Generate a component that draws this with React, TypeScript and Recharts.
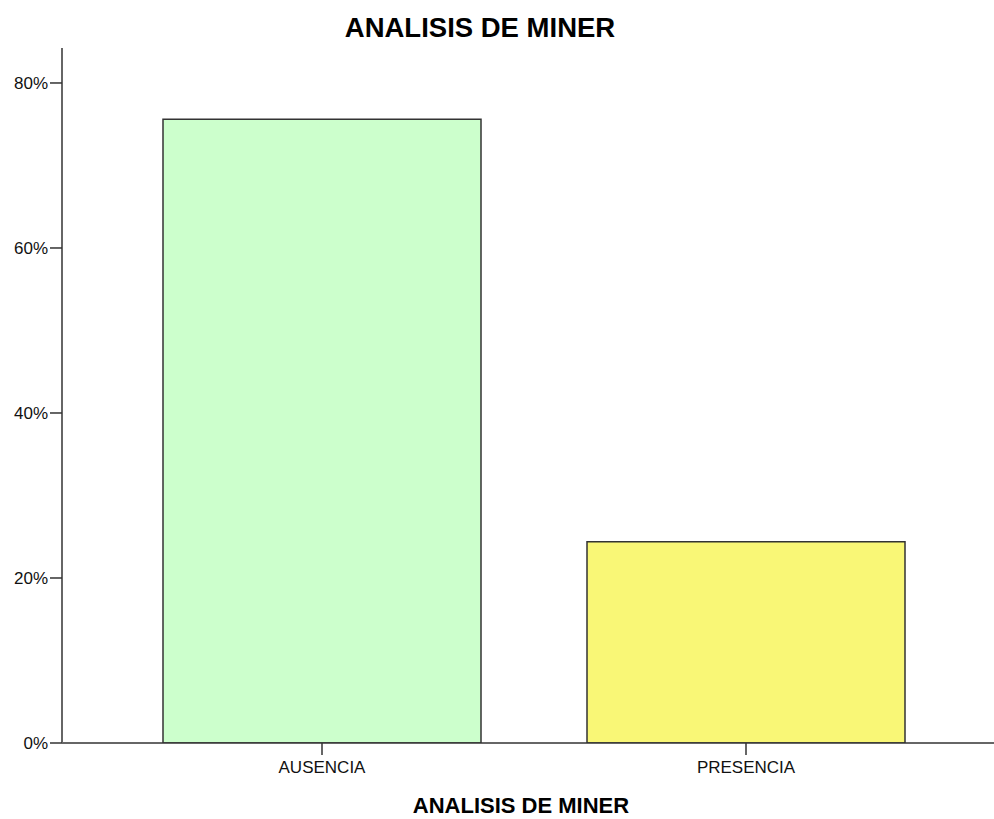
import React from "react";
import { BarChart, Bar, XAxis, YAxis, Cell, Label } from "recharts";

const categories = ["AUSENCIA", "PRESENCIA"];
const percentages = [75.6, 24.4];
const barColors = ["#CCFFCC", "#F9F776"];
const yTicks = [0, 20, 40, 60, 80];
const chartTitle = "ANALISIS DE MINER";
const xAxisTitle = "ANALISIS DE MINER";

const data = categories.map((name, i) => ({ name, value: percentages[i] }));

const FONT = '"Liberation Sans", Arial, sans-serif';

export default function App() {
  return (
    <div style={{ position: "absolute", left: 0, top: 0, width: 994, height: 819, background: "#fff", fontFamily: FONT }}>
      <div
        style={{
          position: "absolute",
          left: 0,
          top: 13.5,
          width: 960,
          textAlign: "center",
          fontSize: 27.5,
          lineHeight: "27px",
          fontWeight: "bold",
          color: "#000",
          fontFamily: FONT,
        }}
      >
        {chartTitle}
      </div>
      <BarChart
        width={994}
        height={819}
        data={data}
        margin={{ top: 48, right: 0, bottom: 0, left: 0 }}
        barCategoryGap="12.5%"
      >
        <XAxis
          xAxisId="top"
          orientation="top"
          dataKey="name"
          height={0}
          tick={false}
          tickLine={false}
          axisLine={{ stroke: "#888", strokeWidth: 2 }}
          padding={{ left: 48, right: 36 }}
        />
        <XAxis
          dataKey="name"
          height={76}
          padding={{ left: 48, right: 36 }}
          tickSize={12}
          tickMargin={6}
          axisLine={{ stroke: "#333", strokeWidth: 1.5 }}
          tickLine={{ stroke: "#333", strokeWidth: 1.5 }}
          tick={{ fill: "#111", fontSize: 17, fontFamily: FONT }}
        >
          <Label
            value={xAxisTitle}
            position="insideBottom"
            offset={6}
            dx={-7}
            style={{ fontSize: 22, fontWeight: "bold", fill: "#000", fontFamily: FONT }}
          />
        </XAxis>
        <YAxis
          width={62}
          domain={[0, 84.24]}
          ticks={yTicks}
          allowDataOverflow
          tickFormatter={(v: number) => `${v}%`}
          tickSize={12}
          tickMargin={2}
          axisLine={{ stroke: "#666", strokeWidth: 2 }}
          tickLine={{ stroke: "#333", strokeWidth: 1.5 }}
          tick={{ fill: "#111", fontSize: 17, fontFamily: FONT }}
        />
        <Bar dataKey="value" stroke="#333" strokeWidth={1.5} isAnimationActive={false}>
          {data.map((d, i) => (
            <Cell key={d.name} fill={barColors[i]} />
          ))}
        </Bar>
      </BarChart>
    </div>
  );
}
